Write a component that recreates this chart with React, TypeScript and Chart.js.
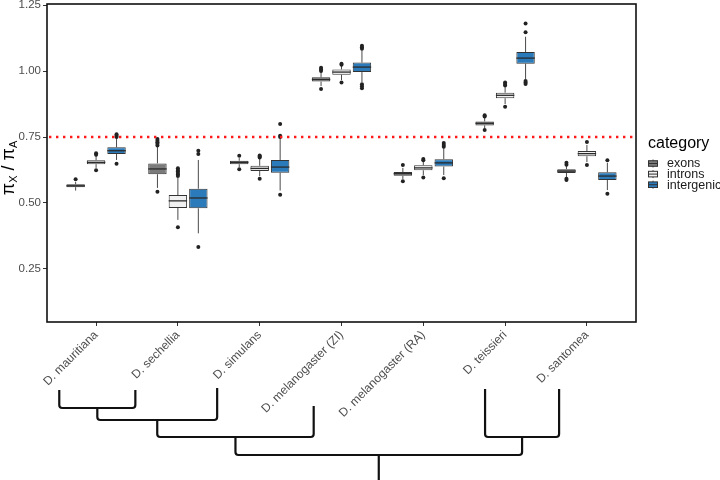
import React, { useEffect, useRef } from "react";
import { Chart, registerables } from "chart.js";

Chart.register(...registerables);

const categories = [
  "D. mauritiana",
  "D. sechellia",
  "D. simulans",
  "D. melanogaster (ZI)",
  "D. melanogaster (RA)",
  "D. teissieri",
  "D. santomea",
];
const seriesNames = ["exons", "introns", "intergenic"];
const seriesFill = ["#7b7b7b", "#f0f0f0", "#2b7bba"];

// [whiskerLow, q1, median, q3, whiskerHigh] per category
const exonsStats = [
  [0.547, 0.56, 0.565, 0.571, 0.58],
  [0.557, 0.609, 0.629, 0.65, 0.712],
  [0.636, 0.647, 0.654, 0.66, 0.67],
  [0.943, 0.96, 0.968, 0.976, 0.996],
  [0.591, 0.603, 0.611, 0.617, 0.633],
  [0.784, 0.794, 0.802, 0.809, 0.822],
  [0.598, 0.614, 0.621, 0.628, 0.64],
];
const intronsStats = [
  [0.633, 0.647, 0.654, 0.662, 0.678],
  [0.436, 0.481, 0.508, 0.53, 0.595],
  [0.602, 0.621, 0.631, 0.641, 0.667],
  [0.966, 0.986, 0.996, 1.006, 1.019],
  [0.606, 0.624, 0.633, 0.643, 0.657],
  [0.875, 0.897, 0.908, 0.918, 0.939],
  [0.655, 0.677, 0.687, 0.697, 0.72],
];
const intergenicStats = [
  [0.663, 0.686, 0.698, 0.711, 0.746],
  [0.385, 0.48, 0.519, 0.554, 0.663],
  [0.547, 0.615, 0.636, 0.663, 0.746],
  [0.958, 0.996, 1.015, 1.032, 1.078],
  [0.606, 0.638, 0.652, 0.666, 0.708],
  [0.97, 1.028, 1.049, 1.072, 1.13],
  [0.549, 0.587, 0.602, 0.616, 0.652],
];

const exonsOutliers = [
  [0.59],
  [0.543, 0.718, 0.724, 0.73, 0.736, 0.742],
  [0.628, 0.679],
  [0.932, 1.0, 1.006, 1.012],
  [0.582, 0.644],
  [0.777, 0.828, 0.832],
  [0.587, 0.592, 0.645, 0.652],
];
const intronsOutliers = [
  [0.624, 0.683, 0.688],
  [0.408, 0.602, 0.608, 0.614, 0.62, 0.625, 0.632],
  [0.592, 0.672, 0.676, 0.68],
  [0.957, 1.024, 1.028],
  [0.597, 0.662, 0.667],
  [0.865, 0.945, 0.951, 0.957],
  [0.644, 0.731],
];
const intergenicOutliers = [
  [0.649, 0.75, 0.755, 0.76],
  [0.333, 0.686, 0.698],
  [0.531, 0.75, 0.755, 0.799],
  [0.935, 0.942, 0.95, 1.084, 1.09, 1.096],
  [0.594, 0.713, 0.72, 0.727],
  [0.951, 0.957, 0.962, 1.147, 1.18],
  [0.535, 0.662],
];

const yTicks = [0.25, 0.5, 0.75, 1.0, 1.25];
const refLine = 0.75;

// phylogeny below the axis (leaves refer to category indices)
const treeLeafCats = [0, 1, 2, 3, 5, 6];
const treeLeafShift = [-0.45, -0.52, -0.52, -0.34, -0.245, -0.34];
const treeLeafDrop = [68, 68, 66, 84, 67, 67];
const treeJoins: [string, string, number][] = [
  ["L0", "L1", 86],
  ["N0", "L2", 98],
  ["N1", "L3", 115],
  ["L4", "L5", 115],
  ["N2", "N3", 133],
];

const allStats = [exonsStats, intronsStats, intergenicStats];
const allOutliers = [exonsOutliers, intronsOutliers, intergenicOutliers];

const FONT = "'Liberation Sans', Arial, Helvetica, sans-serif";

const boxPlugin = {
  id: "boxExtras",
  afterDatasetsDraw(chart: any) {
    const ctx = chart.ctx;
    const y = chart.scales.y;
    const area = chart.chartArea;
    ctx.save();
    allStats.forEach((stats, di) => {
      const meta = chart.getDatasetMeta(di);
      meta.data.forEach((bar: any, j: number) => {
        const { x, width } = bar.getProps(["x", "width"], true);
        const [lo, q1, med, q3, hi] = stats[j];
        ctx.strokeStyle = "#4a4a4a";
        ctx.lineWidth = 1;
        ctx.beginPath();
        ctx.moveTo(x, y.getPixelForValue(q3));
        ctx.lineTo(x, y.getPixelForValue(hi));
        ctx.moveTo(x, y.getPixelForValue(q1));
        ctx.lineTo(x, y.getPixelForValue(lo));
        ctx.stroke();
        ctx.strokeStyle = "#2a2a2a";
        ctx.lineWidth = 1.3;
        ctx.beginPath();
        ctx.moveTo(x - width / 2, y.getPixelForValue(med));
        ctx.lineTo(x + width / 2, y.getPixelForValue(med));
        ctx.stroke();
        ctx.fillStyle = "#222222";
        allOutliers[di][j].forEach((v) => {
          ctx.beginPath();
          ctx.arc(x, y.getPixelForValue(v), 2, 0, Math.PI * 2);
          ctx.fill();
        });
      });
    });
    // reference line
    ctx.strokeStyle = "#ff1a1a";
    ctx.lineWidth = 2.4;
    ctx.setLineDash([2.4, 4.6]);
    ctx.beginPath();
    const ry = y.getPixelForValue(refLine);
    ctx.moveTo(area.left + 2, ry);
    ctx.lineTo(area.right, ry);
    ctx.stroke();
    ctx.restore();
  },
  afterDraw(chart: any) {
    const ctx = chart.ctx;
    const area = chart.chartArea;
    const xs = chart.scales.x;
    ctx.save();
    // panel border
    ctx.strokeStyle = "#111";
    ctx.lineWidth = 1.6;
    ctx.strokeRect(area.left, area.top, area.right - area.left, area.bottom - area.top);

    // y-axis title  pi_X / pi_A
    const parts = [
      { t: "\u03c0", s: 18, dy: 0 },
      { t: "X", s: 11, dy: 3 },
      { t: " / ", s: 18, dy: 0 },
      { t: "\u03c0", s: 18, dy: 0 },
      { t: "A", s: 11, dy: 3 },
    ];
    let total = 0;
    parts.forEach((p) => {
      ctx.font = `${p.s}px ${FONT}`;
      total += ctx.measureText(p.t).width;
    });
    ctx.save();
    ctx.translate(13.5, (area.top + area.bottom) / 2 + 5);
    ctx.rotate(-Math.PI / 2);
    ctx.fillStyle = "#000";
    ctx.textBaseline = "alphabetic";
    ctx.textAlign = "left";
    let px = -total / 2;
    parts.forEach((p) => {
      ctx.font = `${p.s}px ${FONT}`;
      ctx.fillText(p.t, px, p.dy);
      px += ctx.measureText(p.t).width;
    });
    ctx.restore();

    // legend
    const lx = area.right + 12;
    ctx.fillStyle = "#000";
    ctx.font = `16px ${FONT}`;
    ctx.textAlign = "left";
    ctx.textBaseline = "alphabetic";
    ctx.fillText("category", lx, 148);
    seriesNames.forEach((name, i) => {
      const cy = 163.5 + i * 10.6;
      const kx = lx + 5;
      ctx.strokeStyle = "#4a4a4a";
      ctx.lineWidth = 1;
      ctx.beginPath();
      ctx.moveTo(kx, cy - 4);
      ctx.lineTo(kx, cy + 4);
      ctx.stroke();
      ctx.fillStyle = seriesFill[i];
      ctx.fillRect(kx - 4.5, cy - 2.8, 9, 5.6);
      ctx.strokeStyle = "#333";
      ctx.strokeRect(kx - 4.5, cy - 2.8, 9, 5.6);
      ctx.beginPath();
      ctx.moveTo(kx - 4.5, cy);
      ctx.lineTo(kx + 4.5, cy);
      ctx.stroke();
      ctx.fillStyle = "#1a1a1a";
      ctx.font = `12.5px ${FONT}`;
      ctx.textBaseline = "middle";
      ctx.fillText(name, lx + 19, cy + 0.5);
    });

    // phylogeny
    const nodes: Record<string, { x: number; top: number }> = {};
    treeLeafCats.forEach((c, i) => {
      nodes["L" + i] = {
        x: xs.getPixelForValue(c + treeLeafShift[i]),
        top: area.bottom + treeLeafDrop[i],
      };
    });
    ctx.strokeStyle = "#111";
    ctx.lineWidth = 2.2;
    ctx.lineJoin = "round";
    ctx.lineCap = "butt";
    treeJoins.forEach(([a, b, drop], k) => {
      const na = nodes[a];
      const nb = nodes[b];
      const yy = area.bottom + drop;
      ctx.beginPath();
      ctx.moveTo(na.x, na.top);
      ctx.arcTo(na.x, yy, nb.x, yy, 3);
      ctx.arcTo(nb.x, yy, nb.x, nb.top, 3);
      ctx.lineTo(nb.x, nb.top);
      ctx.stroke();
      nodes["N" + k] = { x: (na.x + nb.x) / 2, top: yy };
    });
    const root = nodes["N" + (treeJoins.length - 1)];
    ctx.beginPath();
    ctx.moveTo(root.x, root.top);
    ctx.lineTo(root.x, chart.height);
    ctx.stroke();
    ctx.restore();
  },
};

export default function App() {
  const ref = useRef<HTMLCanvasElement | null>(null);
  useEffect(() => {
    if (!ref.current) return;
    const datasets = allStats.map((stats, di) => ({
      label: seriesNames[di],
      data: stats.map((s, i) => ({ x: i, y: [s[1], s[3]] })),
      backgroundColor: seriesFill[di],
      borderColor: "#333333",
      borderWidth: 1,
      borderSkipped: false as const,
      categoryPercentage: 0.75,
      barPercentage: 0.9,
    }));
    const chart = new Chart(ref.current, {
      type: "bar",
      data: { datasets },
      plugins: [boxPlugin],
      options: {
        animation: false,
        responsive: false,
        devicePixelRatio: 1,
        layout: { padding: { top: 4, right: 84, bottom: 0, left: 0 } },
        plugins: { legend: { display: false }, tooltip: { enabled: false } },
        scales: {
          x: {
            type: "linear",
            min: -0.6,
            max: 6.6,
            offset: false,
            grid: {
              display: true,
              drawOnChartArea: false,
              drawTicks: true,
              tickLength: 4,
              color: "#333",
              offset: false,
            },
            border: { display: false },
            afterBuildTicks: (s: any) => {
              s.ticks = categories.map((_, i) => ({ value: i }));
            },
            afterFit: (s: any) => {
              s.height = 158;
              s.paddingLeft = 0;
              s.paddingRight = 0;
            },
            ticks: {
              autoSkip: false,
              maxRotation: 45,
              minRotation: 45,
              padding: 2,
              color: "#4d4d4d",
              font: { family: FONT, size: 12 },
              callback: (v: any) => categories[Math.round(Number(v))],
            },
          },
          y: {
            type: "linear",
            min: 0.049,
            max: 1.254,
            grid: {
              display: true,
              drawOnChartArea: false,
              drawTicks: true,
              tickLength: 4,
              color: "#333",
            },
            border: { display: false },
            afterBuildTicks: (s: any) => {
              s.ticks = yTicks.map((v) => ({ value: v }));
            },
            afterFit: (s: any) => {
              s.width = 47;
              s.paddingTop = 0;
              s.paddingBottom = 0;
            },
            ticks: {
              padding: 2,
              color: "#4d4d4d",
              font: { family: FONT, size: 11.5 },
              callback: (v: any) => Number(v).toFixed(2),
            },
          },
        },
      },
    });
    return () => chart.destroy();
  }, []);
  return (
    <div style={{ position: "absolute", left: 0, top: 0, width: 720, height: 480, background: "#fff" }}>
      <canvas ref={ref} width={720} height={480} style={{ width: 720, height: 480, display: "block" }} />
    </div>
  );
}
